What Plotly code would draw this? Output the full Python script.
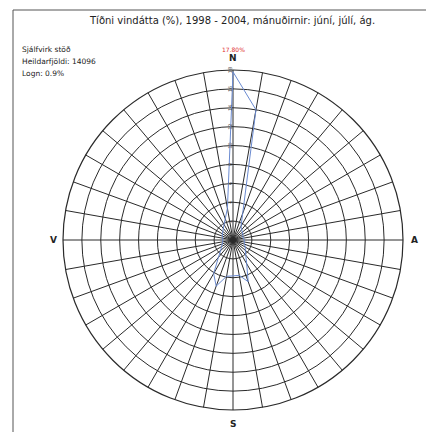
import plotly.graph_objects as go

directions = list(range(0, 360, 10))
frequency = [17.8, 14.0, 3.0, 1.7, 1.4, 1.3, 1.2, 1.1, 1.1, 1.2, 1.2, 1.3, 1.5, 1.7, 2.1,
             2.9, 4.7, 3.8, 3.8, 3.9, 5.2, 4.1, 2.4, 1.7, 1.4, 1.2, 1.1, 1.1, 1.1, 1.2,
             1.3, 1.4, 1.6, 1.9, 2.4, 3.4]
radial_ticks = [2, 4, 6, 8, 10, 12, 14, 16, 18]
compass_labels = ["N", "A", "S", "V"]

title_text = "Tíðni vindátta (%), 1998 - 2004, mánuðirnir: júní, júlí, ág."
info_lines = ["Sjálfvirk stöð", "Heildarfjöldi: 14096", "Logn: 0.9%"]
max_label = "17.80%"

W, H = 434, 432
OFF = 8  # page body margin offset


def px(x):
    return (x - OFF) / W


def py(y):
    return 1 - (y - OFF) / H


fig = go.Figure()
fig.add_trace(go.Scatterpolar(
    r=frequency + frequency[:1],
    theta=directions + directions[:1],
    mode="lines",
    line=dict(color="#6a8ad0", width=1),
    hoverinfo="skip",
    showlegend=False,
))

cx, cy, rad = 233, 240, 170
grid_col = "#2a2a2a"
fig.update_layout(
    width=W, height=H,
    margin=dict(l=0, r=0, t=0, b=0),
    paper_bgcolor="white",
    plot_bgcolor="white",
    font=dict(family="DejaVu Sans", color="#222"),
    polar=dict(
        domain=dict(x=[px(cx - rad), px(cx + rad)],
                    y=[py(cy + rad), py(cy - rad)]),
        bgcolor="white",
        radialaxis=dict(range=[0, 18], tickvals=radial_ticks,
                        ticktext=[str(v) for v in radial_ticks],
                        angle=90, tickangle=0, side="counterclockwise",
                        showline=False, ticks="",
                        gridcolor=grid_col, gridwidth=1.2,
                        tickfont=dict(size=5, color="#444")),
        angularaxis=dict(direction="clockwise", rotation=90,
                         tickvals=directions,
                         ticktext=["" for d in directions],
                         ticks="", showline=True, linecolor=grid_col, linewidth=1.2,
                         gridcolor=grid_col, gridwidth=1.2,
                         ),
    ),
    shapes=[
        dict(type="rect", xref="paper", yref="paper", x0=px(13), x1=1.02, y0=-0.02, y1=py(10),
             line=dict(color="#555", width=1), fillcolor="rgba(0,0,0,0)"),
    ],
)

annotations = [
    dict(text=title_text, x=px(232), y=py(20), font=dict(size=10, color="#222"),
         xanchor="center", yanchor="middle"),
    dict(text=max_label, x=px(233), y=py(50), font=dict(size=6, color="#e03030"),
         xanchor="center", yanchor="middle"),
]
for i, line in enumerate(info_lines):
    annotations.append(dict(text=line, x=px(20), y=py(49 + 12 * i), xanchor="left", yanchor="middle",
                            font=dict(size=7.5, color="#222")))
label_pos = [(233, 58), (414, 240), (233, 424), (53, 240)]
for lab, (lx, ly) in zip(compass_labels, label_pos):
    annotations.append(dict(text="<b>" + lab + "</b>", x=px(lx), y=py(ly), xanchor="center",
                            yanchor="middle", font=dict(size=9, color="#222")))
for a in annotations:
    a.update(xref="paper", yref="paper", showarrow=False)
fig.update_layout(annotations=annotations)

fig.write_html("out.html")
